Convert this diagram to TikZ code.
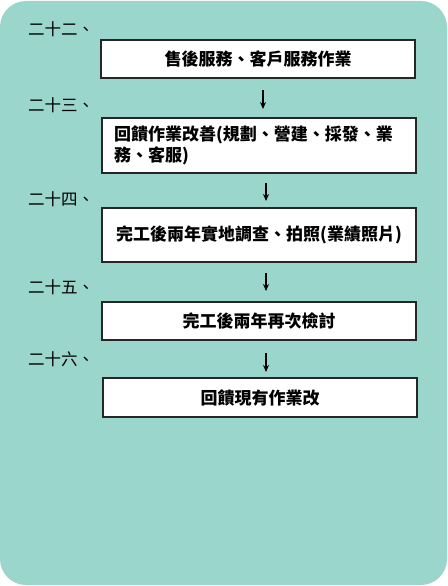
\documentclass[tikz,border=0pt]{standalone}
\usepackage{fontspec}
\newfontfamily\cjk{Noto Sans CJK TC}
\usetikzlibrary{arrows.meta}
\definecolor{bgteal}{HTML}{9AD6CC}
\tikzset{
  stepbox/.style={draw=black!85, line width=1.4pt, fill=white, inner sep=0pt,
    minimum width=314pt, font=\cjk\bfseries\fontsize{17}{21}\selectfont},
  numlabel/.style={anchor=west, inner sep=0pt, font=\cjk\fontsize{16.5}{20}\selectfont},
  arr/.style={line width=1.3pt, -{Stealth[length=7pt,width=6pt]}}
}
\begin{document}
\begin{tikzpicture}[x=1pt,y=-1pt]
\useasboundingbox (0,0) rectangle (447,586);
\fill[white] (0,0) rectangle (447,586);
\fill[bgteal, rounded corners=26pt] (0,1) rectangle (447,585);

\node[numlabel] (l1) at (28,29) {二十二、};
\node[numlabel] (l2) at (28,105) {二十三、};
\node[numlabel] (l3) at (28,199) {二十四、};
\node[numlabel] (l4) at (28,287) {二十五、};
\node[numlabel] (l5) at (28,359) {二十六、};

\node[stepbox, minimum height=38pt] (b1) at (258,59) {售後服務、客戶服務作業};
\node[stepbox, minimum height=55pt, text width=290pt, align=left] (b2) at (259,145.5)
  {回饋作業改善(規劃、營建、採發、業\\務、客服)};
\node[stepbox, minimum height=54pt] (b3) at (259,235) {完工後兩年實地調查、拍照(業績照片)};
\node[stepbox, minimum height=38pt] (b4) at (259,321) {完工後兩年再次檢討};
\node[stepbox, minimum height=39pt] (b5) at (260,397.5) {回饋現有作業改};

\coordinate (a1s) at (263,90);  \coordinate (a1e) at (263,109);
\coordinate (a2s) at (266,183); \coordinate (a2e) at (266,201);
\coordinate (a3s) at (266,273); \coordinate (a3e) at (266,291);
\coordinate (a4s) at (266,353); \coordinate (a4e) at (266,372);
\draw[arr] (a1s) -- (a1e);
\draw[arr] (a2s) -- (a2e);
\draw[arr] (a3s) -- (a3e);
\draw[arr] (a4s) -- (a4e);
\end{tikzpicture}
\end{document}
